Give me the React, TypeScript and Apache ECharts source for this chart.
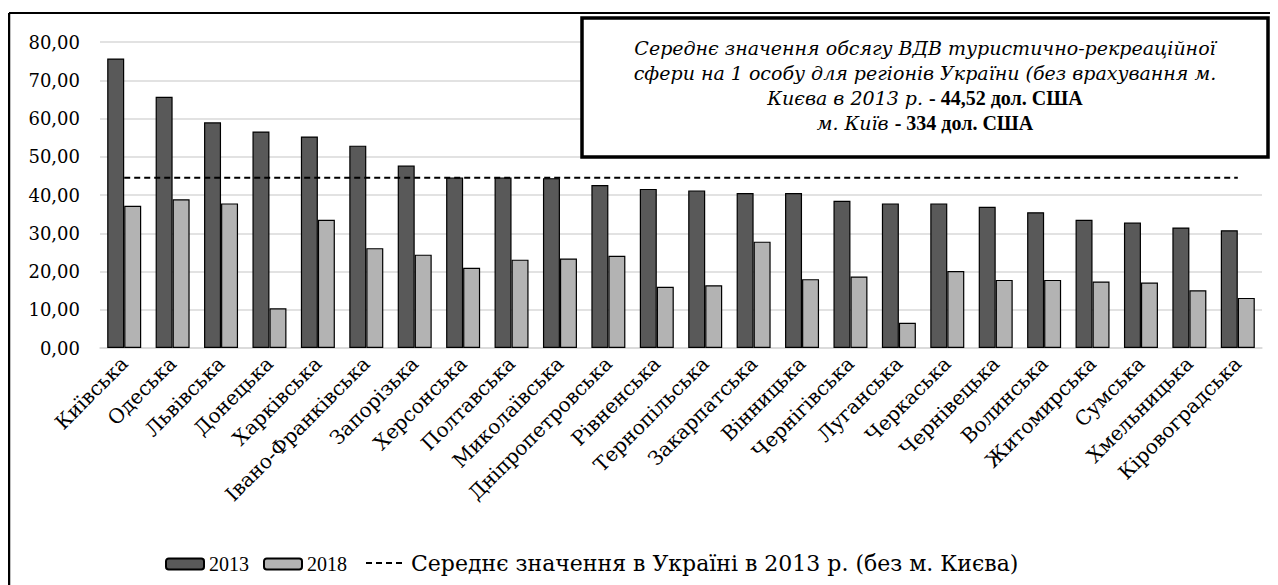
import React, { useEffect, useRef } from "react";
import * as echarts from "echarts";

const regions = [
  "Київська", "Одеська", "Львівська", "Донецька", "Харківська", "Івано-Франківська",
  "Запорізька", "Херсонська", "Полтавська", "Миколаївська", "Дніпропетровська", "Рівненська",
  "Тернопільська", "Закарпатська", "Вінницька", "Чернігівська", "Луганська", "Черкаська",
  "Чернівецька", "Волинська", "Житомирська", "Сумська", "Хмельницька", "Кіровоградська",
];
const values2013 = [
  75.7, 65.7, 59.0, 56.6, 55.3, 52.9, 47.7, 44.6, 44.6, 44.4, 42.6, 41.6,
  41.2, 40.5, 40.5, 38.5, 37.8, 37.8, 36.9, 35.5, 33.5, 32.8, 31.5, 30.8,
];
const values2018 = [
  37.2, 38.9, 37.8, 10.4, 33.5, 26.1, 24.4, 21.0, 23.1, 23.4, 24.1, 16.0,
  16.4, 27.8, 18.0, 18.7, 6.6, 20.1, 17.8, 17.8, 17.4, 17.1, 15.1, 13.1,
];
const mean2013 = 44.52;
const seriesNames = ["2013", "2018", "Середнє значення в Україні в 2013 р. (без м. Києва)"];
const yTicks = { min: 0, max: 80, interval: 10 };

const SERIF = "DejaVu Serif";
const TIMES = "Liberation Serif";

export default function App() {
  const ref = useRef<HTMLDivElement>(null);
  useEffect(() => {
    if (!ref.current) return;
    const chart = echarts.init(ref.current, null, { renderer: "svg" });
    chart.setOption({
      animation: false,
      backgroundColor: "#ffffff",
      grid: { left: 92, right: 16, top: 34, bottom: 237, containLabel: false },
      legend: [
        {
          left: 152,
          top: 541,
          itemWidth: 38,
          itemHeight: 11,
          itemGap: 14,
          textStyle: { fontFamily: TIMES, fontSize: 20, color: "#000" },
          data: [seriesNames[0], seriesNames[1]],
        },
        {
          left: 352,
          top: 539,
          itemWidth: 40,
          itemHeight: 11,
          textStyle: { fontFamily: SERIF, fontSize: 22, color: "#000" },
          data: [
            {
              name: seriesNames[2],
              itemStyle: { color: "rgba(0,0,0,0)", borderWidth: 0 },
            },
          ],
        },
      ],
      xAxis: {
        type: "category",
        data: regions,
        axisTick: { show: false },
        axisLine: { lineStyle: { color: "#d9d9d9", width: 1.5 } },
        axisLabel: {
          interval: 0,
          rotate: 45,
          margin: 12,
          fontFamily: SERIF,
          fontSize: 20,
          color: "#000",
        },
      },
      yAxis: {
        type: "value",
        min: yTicks.min,
        max: yTicks.max,
        interval: yTicks.interval,
        axisLine: { show: false },
        axisTick: { show: false },
        splitLine: { lineStyle: { color: "#d9d9d9", width: 1.5 } },
        axisLabel: {
          margin: 20,
          fontFamily: SERIF,
          fontSize: 18,
          color: "#000",
          formatter: (v: number) => v.toFixed(2).replace(".", ","),
        },
      },
      series: [
        {
          name: seriesNames[0],
          type: "bar",
          data: values2013,
          barWidth: 17,
          barGap: "0%",
          itemStyle: { color: "#595959", borderColor: "#000", borderWidth: 1.2 },
        },
        {
          name: seriesNames[1],
          type: "bar",
          data: values2018,
          barWidth: 17,
          barGap: "0%",
          itemStyle: { color: "#b3b3b3", borderColor: "#000", borderWidth: 1.2 },
        },
        {
          name: seriesNames[2],
          type: "line",
          data: regions.map(() => mean2013),
          symbol: "none",
          z: 5,
          lineStyle: { color: "#000", width: 2, type: [6, 4] },
          itemStyle: { color: "#000" },
        },
      ],
      graphic: [
        { type: "line", shape: { x1: 1, y1: 5, x2: 1270, y2: 5 }, style: { stroke: "#000", lineWidth: 2 } },
        { type: "line", shape: { x1: 1, y1: 5, x2: 1, y2: 577 }, style: { stroke: "#000", lineWidth: 2.5 } },
        {
          type: "rect",
          shape: { x: 574, y: 10, width: 686, height: 139 },
          style: { fill: "#fff", stroke: "#000", lineWidth: 3.5 },
          z: 10,
        },
        {
          type: "text",
          x: 917,
          y: 27,
          z: 11,
          style: {
            text:
              "{i|Середнє значення обсягу ВДВ туристично-рекреаційної}\n" +
              "{i|сфери на 1 особу для регіонів України (без врахування м.}\n" +
              "{i|Києва в 2013 р. }{b|- 44,52 дол. США}\n" +
              "{i|м. Київ }{b|- 334 дол. США}",
            align: "center",
            verticalAlign: "top",
            rich: {
              i: { fontFamily: SERIF, fontStyle: "italic", fontSize: 19, lineHeight: 25, fill: "#000" },
              b: { fontFamily: TIMES, fontWeight: "bold", fontSize: 20, lineHeight: 25, fill: "#000" },
            },
          },
        },
      ],
    });
    return () => chart.dispose();
  }, []);
  return <div ref={ref} style={{ width: 1270, height: 577 }} />;
}
